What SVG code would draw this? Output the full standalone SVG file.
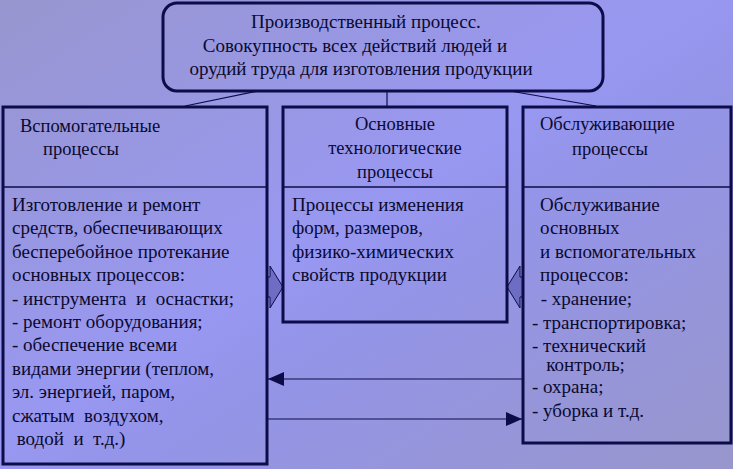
<svg xmlns="http://www.w3.org/2000/svg" width="733" height="469" viewBox="0 0 733 469">
<defs>
<linearGradient id="bg" x1="0" y1="0" x2="1" y2="1">
<stop offset="0" stop-color="#9896cf"/>
<stop offset="0.48" stop-color="#9898f2"/>
<stop offset="0.56" stop-color="#9494ea"/>
<stop offset="1" stop-color="#9896cc"/>
</linearGradient>
<marker id="ah" markerWidth="16" markerHeight="14" refX="16" refY="7" orient="auto" markerUnits="userSpaceOnUse">
<path d="M0,0 L16,7 L0,14 Z" fill="#0c0c48"/>
</marker>
</defs>
<style>
.box{fill:none;stroke:#0c0c48;stroke-width:3}
.div{stroke:#0c0c48;stroke-width:1.5}
.ln{stroke:#0c0c48;stroke-width:1.2;fill:none}
.blk{fill:#6d6dc4;stroke:#0c0c48;stroke-width:1}
text{font-family:"Liberation Serif","Times New Roman",serif;fill:#0a0a30;white-space:pre}
.hd{font-size:18.5px}
.bd{font-size:19px}
.tp{font-size:19px;text-anchor:middle}
.mc{text-anchor:middle}
</style>
<rect width="733" height="469" fill="url(#bg)"/>
<g id="connectors">
<line class="ln" x1="258" y1="91" x2="185" y2="106"/>
<line class="ln" x1="387" y1="91" x2="387" y2="106"/>
<line class="ln" x1="510" y1="91" x2="596" y2="106"/>
<path class="blk" d="M267,277 L270,277 L270,266 L283,287 L270,308 L270,297 L267,297 Z"/>
<path class="blk" d="M523,277 L520,277 L520,266 L507,287 L520,308 L520,297 L523,297 Z"/>
<line class="ln" x1="522" y1="379" x2="268" y2="379" marker-end="url(#ah)"/>
<line class="ln" x1="268" y1="419" x2="522" y2="419" marker-end="url(#ah)"/>
</g>
<g id="top">
<rect class="box" x="163" y="3" width="440" height="88" rx="14"/>
<text class="tp" x="366" y="28">Производственный процесс.</text>
<text class="tp" x="355" y="52">Совокупность всех действий людей и</text>
<text class="tp" x="361" y="75">орудий труда для изготовления продукции</text>
</g>
<g id="aux">
<rect class="box" x="3" y="107" width="264" height="357"/>
<line class="div" x1="3" y1="187" x2="267" y2="187"/>
<text class="hd" x="20" y="132">Вспомогательные</text>
<text class="hd" x="43" y="155">процессы</text>
<text class="bd" x="12" y="211">Изготовление и ремонт</text>
<text class="bd" x="12" y="234.4">средств, обеспечивающих</text>
<text class="bd" x="12" y="257.8">бесперебойное протекание</text>
<text class="bd" x="12" y="281.2">основных процессов:</text>
<text class="bd" x="12" y="304.6">- инструмента  и  оснастки;</text>
<text class="bd" x="12" y="328">- ремонт оборудования;</text>
<text class="bd" x="12" y="351.4">- обеспечение всеми</text>
<text class="bd" x="12" y="374.8">видами энергии (теплом,</text>
<text class="bd" x="12" y="398.2">эл. энергией, паром,</text>
<text class="bd" x="12" y="421.6">сжатым  воздухом,</text>
<text class="bd" x="12" y="445"> водой  и  т.д.)</text>
</g>
<g id="main">
<rect class="box" x="283" y="107" width="224" height="215"/>
<line class="div" x1="283" y1="187" x2="507" y2="187"/>
<text class="hd mc" x="395" y="130">Основные</text>
<text class="hd mc" x="395" y="154">технологические</text>
<text class="hd mc" x="395" y="178">процессы</text>
<text class="bd" x="292" y="211">Процессы изменения</text>
<text class="bd" x="292" y="234.4">форм, размеров,</text>
<text class="bd" x="292" y="257.8">физико-химических</text>
<text class="bd" x="292" y="281.2">свойств продукции</text>
</g>
<g id="service">
<rect class="box" x="523" y="107" width="208" height="336"/>
<line class="div" x1="523" y1="187" x2="731" y2="187"/>
<text class="hd" x="540" y="130">Обслуживающие</text>
<text class="hd" x="572" y="155">процессы</text>
<text class="bd" x="540" y="211">Обслуживание</text>
<text class="bd" x="540" y="234.4">основных</text>
<text class="bd" x="540" y="257.8">и вспомогательных</text>
<text class="bd" x="540" y="281.2">процессов:</text>
<text class="bd" x="536" y="305"> - хранение;</text>
<text class="bd" x="532" y="329">- транспортировка;</text>
<text class="bd" x="532" y="352">- технический</text>
<text class="bd" x="532" y="371">   контроль;</text>
<text class="bd" x="532" y="393">- охрана;</text>
<text class="bd" x="532" y="417">- уборка и т.д.</text>
</g>
</svg>
